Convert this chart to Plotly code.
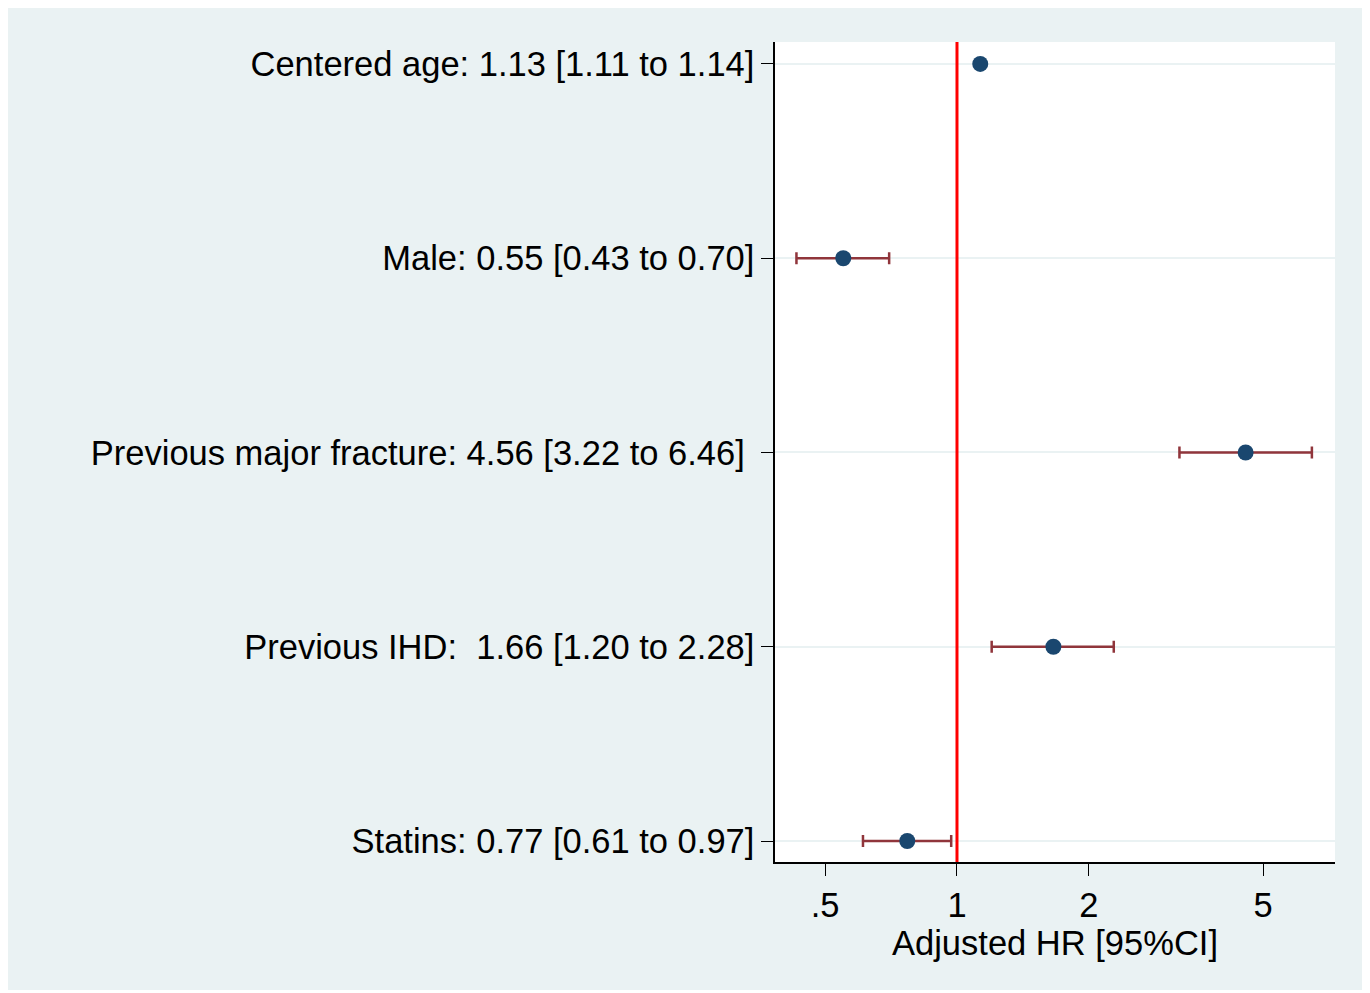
import plotly.graph_objects as go

labels = [
    "Centered age: 1.13 [1.11 to 1.14]",
    "Male: 0.55 [0.43 to 0.70]",
    "Previous major fracture: 4.56 [3.22 to 6.46] ",
    "Previous IHD:  1.66 [1.20 to 2.28]",
    "Statins: 0.77 [0.61 to 0.97]",
]
hr = [1.13, 0.55, 4.56, 1.66, 0.77]
lo = [1.11, 0.43, 3.22, 1.20, 0.61]
hi = [1.14, 0.70, 6.46, 2.28, 0.97]
rows = [5, 4, 3, 2, 1]
xticks = [0.5, 1, 2, 5]
xticklabels = [".5", "1", "2", "5"]

BG = "#eaf2f3"
font = "Liberation Sans, Arial, sans-serif"

fig = go.Figure()
fig.add_trace(go.Scatter(
    x=hr, y=rows, mode="markers",
    marker=dict(color="#1a476f", size=16),
    error_x=dict(type="data", symmetric=False,
                 array=[h - m for h, m in zip(hi, hr)],
                 arrayminus=[m - l for m, l in zip(hr, lo)],
                 color="#90353b", thickness=2.5, width=6),
    showlegend=False,
))

fig.add_vline(x=1, line=dict(color="#ff0000", width=3))

fig.update_layout(
    width=1354, height=982,
    margin=dict(l=767, r=27, t=34, b=128),
    paper_bgcolor=BG, plot_bgcolor="white",
    font=dict(family=font, size=34.5, color="black"),
    xaxis=dict(type="log", range=[-0.4155, 0.863], tickvals=xticks, ticktext=xticklabels,
               showgrid=False, showline=True, linecolor="black", linewidth=1.5,
               ticks="outside", ticklen=12, tickcolor="black", zeroline=False,
               title=dict(text="Adjusted HR [95%CI]", standoff=0, font=dict(size=34.5))),
    yaxis=dict(range=[0.892, 5.113], tickvals=rows, ticktext=labels,
               showgrid=True, gridcolor=BG, gridwidth=2,
               showline=True, linecolor="black", linewidth=1.5,
               ticks="outside", ticklen=12, tickcolor="black", zeroline=False),
)

fig.write_html("out.html")
